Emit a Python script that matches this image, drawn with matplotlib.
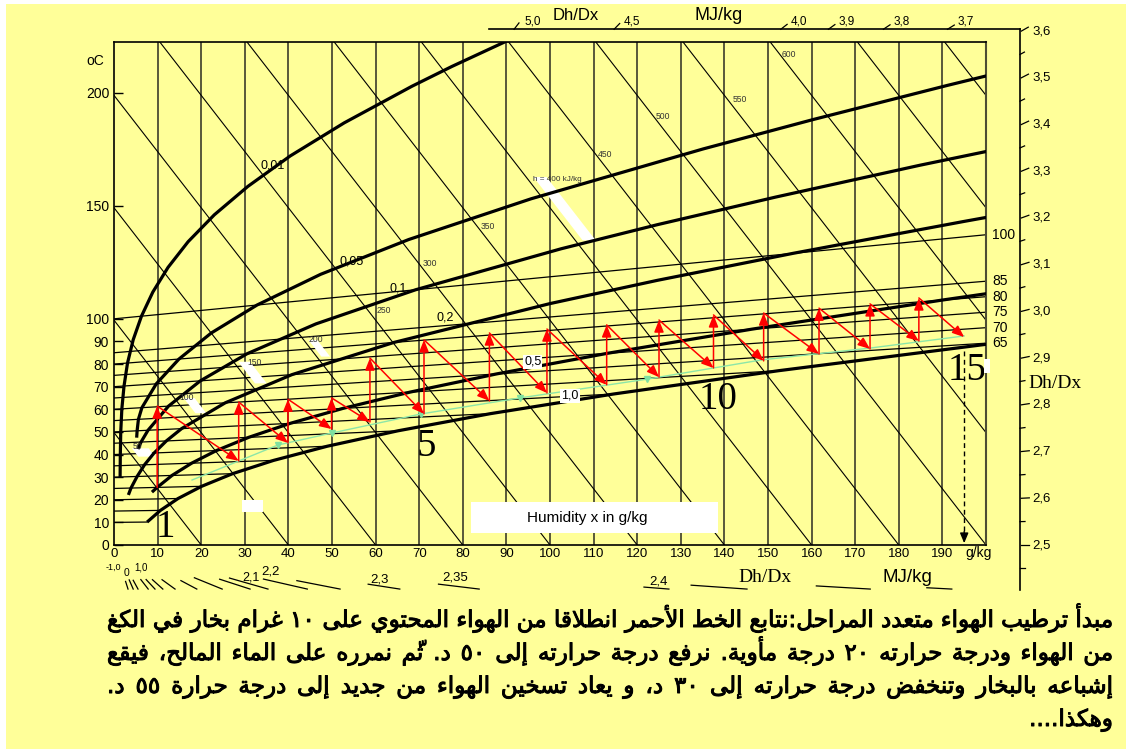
import numpy as np
import matplotlib
matplotlib.use("Agg")
import matplotlib.pyplot as plt
import matplotlib.patheffects as pe
from matplotlib.patches import Polygon, Rectangle

W, H = 1126, 749
YELLOW = "#FFFF99"
SANS = "Liberation Sans"
SERIF = "Liberation Serif"
ARABIC = "DejaVu Sans"

plt.rcParams["font.family"] = [SANS, "DejaVu Sans"]

# ---------------- values ----------------
x_ticks = list(range(0, 200, 10))            # g/kg
x_grid = list(range(10, 200, 10))
left_t = [0, 10, 20, 30, 40, 50, 60, 70, 80, 90, 100, 150, 200]   # oC on the x=0 axis
enthalpy = list(range(50, 701, 50))           # kJ/kg, oblique lines
h_text = ["50", "100", "150", "200", "250", "300", "350", "h = 400 kJ/kg",
          "450", "500", "550", "600"]

iso_t = [10, 15, 20, 25, 30, 35, 40, 45, 50, 55, 60, 65, 70, 75, 80, 85, 100]
iso_x_end = [7.6, 10.65, 14.7, 20.1, 27.2, 36.6, 48.9, 65.1, 86.3, 114.6, 152.4,
             200, 200, 200, 200, 200, 200]
iso_labelled = [65, 70, 75, 80, 85, 100]

rh_names = ["0,01", "0,05", "0,1", "0,2", "0,5", "1,0"]
rh001_t = [30, 40, 50, 60, 70, 80, 90, 100, 110, 120, 130, 140, 150, 160, 170, 180, 185, 191]
rh001_x = [1.4, 1.45, 1.55, 1.8, 2.3, 3.1, 4.4, 6.3, 8.9, 12.4, 17.0, 23.0, 30.7, 40.4,
           52.8, 68.3, 77.5, 90.2]
rh005_t = [47, 50, 55, 60, 70, 80, 90, 100, 110, 120, 130, 140, 145, 150, 151.5]
rh005_x = [5.2, 5.3, 5.6, 6.4, 9.7, 14.9, 22.3, 32.8, 47.4, 67.6, 95.7, 135.1, 160.5,
           191.1, 201.8]
rh01_t = [42, 45, 50, 60, 70, 80, 90, 100, 110, 115, 120, 125, 127]
rh01_x = [5.5, 6.2, 7.8, 12.5, 19.8, 30.5, 46.3, 69.2, 102.5, 124.6, 151.7, 184.8, 201.2]
rh02_t = [22, 25, 30, 35, 40, 45, 50, 60, 70, 80, 90, 95, 100, 105, 106]
rh02_x = [3.3, 3.9, 5.3, 7.0, 9.2, 12.0, 15.5, 25.5, 40.8, 64.2, 100.0, 124.6, 155.7,
          194.8, 203.8]
rh05_t = [23, 25, 30, 35, 40, 45, 50, 55, 60, 65, 70, 75, 80, 81]
rh05_x = [8.7, 9.9, 13.3, 17.8, 23.5, 30.9, 40.4, 52.5, 67.9, 87.7, 113.2, 146.3, 189.9, 200.5]
rh10_t = [10, 15, 20, 25, 30, 35, 40, 45, 50, 55, 60, 65]
rh10_x = [7.6, 10.65, 14.7, 20.1, 27.2, 36.6, 48.9, 65.1, 86.3, 114.6, 152.4, 204.1]

# red path: heating (vertical) then humidifying (diagonal) stages
stage_x = [9.9, 28.6, 39.9, 49.9, 58.7, 71.1, 86.1, 99.3, 113.0, 125.0, 137.5, 149.0,
           161.7, 173.4, 184.6]
stage_t_low = [25.0, 35.3, 42.0, 46.9, 49.0, 51.2, 54.9, 56.7, 58.5, 60.2, 62.3, 63.7,
               64.9, 65.5, 67.1]
stage_t_high = [60.3, 60.0, 60.0, 59.5, 74.5, 80.1, 80.8, 80.6, 80.4, 80.7, 81.0, 80.3,
                80.5, 80.6, 81.3]
end_x, end_t = 195.0, 67.4
stage_names = ["1", "5", "10", "15"]

green_x = [17.9, 37.6, 50.0, 70.4, 93.1, 122.2, 148.6, 173.4, 195.0]
green_t = [27.8, 41.3, 45.3, 51.2, 55.4, 59.7, 64.1, 65.8, 67.8]

# Dh/Dx edge scale (MJ/kg)
dhdx_right = [2.5, 2.6, 2.7, 2.8, 2.9, 3.0, 3.1, 3.2, 3.3, 3.4, 3.5, 3.6]
dhdx_top = [3.7, 3.8, 3.9, 4.0, 4.5, 5.0]
dhdx_bottom_marks = [-3.6, -1.95, -1.06, 0.0, 0.415, 0.75, 1.1, 1.468, 1.71, 1.872, 1.945,
                     2.058, 2.122, 2.201, 2.266, 2.346, 2.365, 2.387, 2.398]
dhdx_bottom_names = ["-1,0", "0", "1,0", "2,1", "2,2", "2,3", "2,35", "2,4"]

caption = [
    "مبدأ ترطيب الهواء متعدد المراحل:نتابع الخط الأحمر انطلاقا من الهواء المحتوي على ١٠ غرام بخار في الكغ",
    "من الهواء ودرجة حرارته ٢٠ درجة مأوية. نرفع درجة حرارته إلى ٥٠ د. ثمّ نمرره على الماء المالح، فيقع",
    "إشباعه بالبخار وتنخفض درجة حرارته إلى ٣٠ د، و يعاد تسخين الهواء من جديد إلى درجة حرارة ٥٥ د.",
    "وهكذا....",
]


def chart_y(x, t):
    """Vertical position in the skewed Mollier chart (h - 2.5 x, kJ/kg)."""
    x = np.asarray(x, dtype=float)
    t = np.asarray(t, dtype=float)
    return 1.006 * t + x * (0.001 + 0.00186 * t)


# ---------------- simple Arabic shaping for matplotlib ----------------
AR_BASE = {
    "ء": (0xFE80, 1), "آ": (0xFE81, 2), "أ": (0xFE83, 2), "ؤ": (0xFE85, 2),
    "إ": (0xFE87, 2), "ئ": (0xFE89, 4), "ا": (0xFE8D, 2), "ب": (0xFE8F, 4),
    "ة": (0xFE93, 2), "ت": (0xFE95, 4), "ث": (0xFE99, 4), "ج": (0xFE9D, 4),
    "ح": (0xFEA1, 4), "خ": (0xFEA5, 4), "د": (0xFEA9, 2), "ذ": (0xFEAB, 2),
    "ر": (0xFEAD, 2), "ز": (0xFEAF, 2), "س": (0xFEB1, 4), "ش": (0xFEB5, 4),
    "ص": (0xFEB9, 4), "ض": (0xFEBD, 4), "ط": (0xFEC1, 4), "ظ": (0xFEC5, 4),
    "ع": (0xFEC9, 4), "غ": (0xFECD, 4), "ف": (0xFED1, 4), "ق": (0xFED5, 4),
    "ك": (0xFED9, 4), "ل": (0xFEDD, 4), "م": (0xFEE1, 4), "ن": (0xFEE5, 4),
    "ه": (0xFEE9, 4), "و": (0xFEED, 2), "ى": (0xFEEF, 2), "ي": (0xFEF1, 4),
}
LAM_ALEF = {"آ": 0xFEF5, "أ": 0xFEF7, "إ": 0xFEF9, "ا": 0xFEFB}


def is_mark(c):
    o = ord(c)
    return 0x064B <= o <= 0x065F or o == 0x0670


def shape_rtl(text):
    chars = list(text)
    n = len(chars)

    def neighbour(i, step):
        j = i + step
        while 0 <= j < n and is_mark(chars[j]):
            j += step
        return chars[j] if 0 <= j < n else None

    clusters = []
    i = 0
    while i < n:
        c = chars[i]
        if is_mark(c) and clusters:
            clusters[-1] += c
            i += 1
            continue
        if c in AR_BASE:
            prev, nxt = neighbour(i, -1), neighbour(i, 1)
            joins_prev = prev in AR_BASE and AR_BASE[prev][1] == 4
            if c == "ل" and nxt in LAM_ALEF:
                clusters.append(chr(LAM_ALEF[nxt] + (1 if joins_prev else 0)))
                j = i + 1
                while is_mark(chars[j]):
                    j += 1
                i = j + 1
                continue
            base, nforms = AR_BASE[c]
            joins_next = nforms == 4 and nxt in AR_BASE
            if joins_prev and joins_next:
                code = base + 3
            elif joins_prev:
                code = base + 1 if nforms > 1 else base
            elif joins_next:
                code = base + 2
            else:
                code = base
            clusters.append(chr(code))
        else:
            clusters.append(c)
        i += 1
    tokens = []
    for cl in clusters:
        if cl[0].isdigit() and tokens and tokens[-1][0].isdigit():
            tokens[-1] += cl
        else:
            tokens.append(cl)
    return "".join(reversed(tokens))


# ---------------- figure ----------------
fig = plt.figure(figsize=(W / 100, H / 100), dpi=100)
fig.patch.set_facecolor("white")
fig.patches.append(Rectangle((6 / W, 0), 1 - 6 / W, 1 - 4 / H, transform=fig.transFigure,
                             facecolor=YELLOW, edgecolor="none", zorder=-10))

ax = fig.add_axes([114 / W, 1 - 545 / H, 872 / W, 502.7 / H])
ax.set_facecolor(YELLOW)
ax.set_xlim(0, 200)
ax.set_ylim(0, 223.6)
sx, sy = 872 / 200, 502.7 / 223.6      # pixels per data unit

ax.set_xticks(x_ticks)
ax.set_xticklabels([str(v) for v in x_ticks], fontsize=9.5)
ax.tick_params(axis="x", length=0, pad=2)
ax.set_yticks(chart_y(0, left_t))
ax.set_yticklabels([str(v) for v in left_t], fontsize=10)
ax.tick_params(axis="y", direction="in", length=6.5, width=1.0, pad=3.5)
for s in ["left", "bottom", "top"]:
    ax.spines[s].set_linewidth(1.2)
ax.spines["right"].set_color("#4d4d33")
ax.spines["right"].set_linewidth(1.5)

# grid of the chart
for xv in x_grid:
    ax.axvline(xv, color="#333326", lw=1.15, zorder=1)
for h in enthalpy:
    ax.plot([0, h / 2.5], [h, 0], color="black", lw=0.8, zorder=2)
for t, xe in zip(iso_t, iso_x_end):
    xs = np.array([0, xe])
    ax.plot(xs, chart_y(xs, t), color="black", lw=0.9, zorder=2)


def band(x0, y0, w, h):
    pts = [(x0, y0), (x0 + w, y0), (x0 + w + h / 2.5, y0 - h), (x0 + h / 2.5, y0 - h)]
    ax.add_patch(Polygon(pts, closed=True, facecolor="white", edgecolor="none", zorder=3))


band(4.1, 43.0, 3.85, 3.7)
band(16.0, 65.3, 2.5, 6.7)
band(28.5, 81.5, 2.7, 9.6)
band(44.6, 91.2, 2.0, 7.4)
band(96.2, 163.7, 3.0, 28.2)

# relative humidity curves
rh_curves = [(rh001_x, rh001_t), (rh005_x, rh005_t), (rh01_x, rh01_t),
             (rh02_x, rh02_t), (rh05_x, rh05_t), (rh10_x, rh10_t)]
for xs, ts in rh_curves:
    ax.plot(xs, chart_y(xs, ts), color="black", lw=2.3, zorder=4, solid_capstyle="butt")

rh_label_pos = [(36.5, 168.6), (54.6, 125.9), (65.1, 114.3), (75.9, 101.0),
                (96.1, 81.4), (104.6, 66.3)]
for name, (lx, ly) in zip(rh_names, rh_label_pos):
    kw = {}
    if name in ("0,5", "1,0"):
        kw["bbox"] = dict(facecolor="white", edgecolor="none", pad=0.6)
    ax.text(lx, ly, name, fontsize=9, ha="center", va="center", zorder=7, **kw)

h_label_pos = [(5.3, 43.6), (16.7, 65.4), (32.3, 81.0), (46.3, 91.2), (61.9, 104.1),
               (72.5, 125.4), (85.8, 141.5), (101.7, 162.7), (112.6, 173.9),
               (125.9, 190.8), (143.6, 198.0), (154.8, 218.0)]
for name, (lx, ly) in zip(h_text, h_label_pos):
    ax.text(lx, ly, name, fontsize=5.9 if len(name) > 3 else 6.2, color="#333333",
            ha="center", va="center", zorder=7)

for t in iso_labelled:
    ax.text(201.4, chart_y(200, t), str(t), fontsize=10, ha="left", va="center", clip_on=False)

# green line of the saturated states
gy = chart_y(green_x, green_t)
ax.plot(green_x, gy, color="#8CE6A8", lw=1.0, zorder=5)
ax.plot(green_x[1:6], gy[1:6], linestyle="none", marker="v", ms=4.5, color="#7FE0A0", zorder=5)

# red process
arrow_kw = dict(arrowstyle="-|>,head_length=0.55,head_width=0.22", color="#ff0000", lw=1.1,
                mutation_scale=13, shrinkA=0, shrinkB=0)
for i, xs in enumerate(stage_x):
    y_lo = chart_y(xs, stage_t_low[i])
    y_hi = chart_y(xs, stage_t_high[i])
    ax.annotate("", xy=(xs, y_hi), xytext=(xs, y_lo), arrowprops=arrow_kw, zorder=6)
    if i + 1 < len(stage_x):
        nx, nt = stage_x[i + 1], stage_t_low[i + 1]
    else:
        nx, nt = end_x, end_t
    ax.annotate("", xy=(nx, chart_y(nx, nt)), xytext=(xs, y_hi), arrowprops=arrow_kw, zorder=6)

y_end = float(chart_y(end_x, end_t))
ax.plot([end_x, end_x], [y_end - 6, 6], color="black", lw=1.0, dashes=(3.5, 2.5), zorder=6)
ax.annotate("", xy=(end_x, 0.8), xytext=(end_x, 6),
            arrowprops=dict(arrowstyle="-|>,head_length=0.6,head_width=0.25", color="black",
                            lw=1.0, mutation_scale=10, shrinkA=0, shrinkB=0), zorder=6)

stage_pos = [(11.7, 8.0), (71.6, 43.6), (138.5, 64.5), (195.6, 77.8)]
for name, (lx, ly) in zip(stage_names, stage_pos):
    ax.text(lx, ly, name, family=SERIF, fontsize=28, ha="center", va="center", zorder=7)
ax.add_patch(Rectangle((199.5, 76.5), 1.4, 6.2, facecolor="white", edgecolor="none",
                       zorder=7, clip_on=False))

# white boxes
ax.add_patch(Rectangle((81.9, 5.3), 56.6, 13.8, facecolor="white", edgecolor="none", zorder=7))
ax.text(94.7, 12.0, "Humidity x in g/kg", fontsize=11, ha="left", va="center", zorder=8)
ax.add_patch(Rectangle((29.4, 14.7), 4.8, 5.3, facecolor="white", edgecolor="none", zorder=7))

# ---------------- Dh/Dx edge scale ----------------
xR, yT, yB = 207.8, 229.4, -19.6


def ray_dir(q, length_px):
    dx, dy = sx, (q - 2.5) * sy
    n = np.hypot(dx, dy)
    return length_px * dx / n / sx, length_px * dy / n / sy


ax.plot([86.0, xR], [yT, yT], color="black", lw=1.2, clip_on=False)
ax.plot([xR, xR], [yT, -20.0], color="black", lw=1.2, clip_on=False)
for q in dhdx_right:
    yq = (q - 2.5) * xR
    ddx, ddy = ray_dir(q, 8)
    ax.plot([xR + 0.3, xR + 0.3 + ddx], [yq, yq + ddy], color="black", lw=0.9, clip_on=False)
    ax.text(xR + 12 / sx, yq, f"{q:.1f}".replace(".", ","), fontsize=9.5, ha="left",
            va="center", clip_on=False)
for q in np.array(dhdx_right[:-1]) + 0.05:
    yq = (q - 2.5) * xR
    ddx, ddy = ray_dir(q, 5)
    ax.plot([xR, xR + ddx], [yq, yq + ddy], color="black", lw=0.9, clip_on=False)
ax.plot([xR, xR + 5 / sx], [-0.05 * xR, -0.05 * xR], color="black", lw=0.9, clip_on=False)
for q in dhdx_top:
    xq = yT / (q - 2.5)
    ddx, ddy = ray_dir(q, 8)
    ax.plot([xq, xq + ddx], [yT, yT + ddy], color="black", lw=0.9, clip_on=False)
    ax.text(xq + 10 / sx, yT + 8 / sy, f"{q:.1f}".replace(".", ","), fontsize=8.5,
            ha="left", va="center", clip_on=False)
bottom_len = [8, 10, 10, 12, 13, 14, 16, 18, 30, 32, 40, 45, 44, 32, 41, 25, 56, 54, 25]
for q, L in zip(dhdx_bottom_marks, bottom_len):
    xe = yB / (q - 2.5)
    ddx, ddy = ray_dir(q, L)
    ax.plot([xe - ddx, xe], [yB - ddy, yB], color="black", lw=0.9, clip_on=False)


def ftext(px, py, s, **kw):
    return fig.text(px / W, 1 - py / H, s, **kw)


bottom_name_px = [(113, 567), (127, 573), (141, 567), (251, 578), (271, 572), (380, 580),
                  (455, 578), (659, 581)]
bottom_name_fs = [6.5, 7.5, 7, 9, 9.5, 9.5, 9.5, 9.5]
for name, (px, py), fs in zip(dhdx_bottom_names, bottom_name_px, bottom_name_fs):
    ftext(px, py, name, fontsize=fs, ha="center", va="center")

ftext(95, 61, "oC", fontsize=10, ha="center", va="center")
ftext(979, 553, "g/kg", fontsize=10, ha="center", va="center")
ftext(576, 15, "Dh/Dx", fontsize=12, ha="center", va="center")
ftext(719, 15, "MJ/kg", fontsize=13, ha="center", va="center")
ftext(1028, 383, "Dh/Dx", family=SERIF, fontsize=14, ha="left", va="center")
ftext(765, 578, "Dh/Dx", family=SERIF, fontsize=14, ha="center", va="center")
ftext(907, 578, "MJ/kg", fontsize=13.5, ha="center", va="center")

# ---------------- Arabic caption, justified ----------------
renderer = fig.canvas.get_renderer()
vis_words = [shape_rtl(s).split() for s in caption]
heavy = [pe.withStroke(linewidth=0.7, foreground="black")]


def word_widths(words, fs):
    out = []
    for w in words:
        t = fig.text(0, 0, w, fontsize=fs, family=[ARABIC])
        out.append(t.get_window_extent(renderer).width)
        t.remove()
    return out


left_px, right_px = 107, 1113
fs0 = 16
w0 = word_widths(vis_words[0], fs0)
natural = sum(w0) + 0.318 * fs0 * 100 / 72 * (len(w0) - 1)
cap_fs = min(18, max(12, fs0 * (right_px - left_px) / natural))
baselines = [627, 660, 693, 726]
for k, words in enumerate(vis_words):
    widths = word_widths(words, cap_fs)
    if k < 3 and len(words) > 1:
        gap = (right_px - left_px - sum(widths)) / (len(words) - 1)
        xpos = left_px
    else:
        gap = 0.318 * cap_fs * 100 / 72
        xpos = right_px - sum(widths) - gap * (len(words) - 1)
    for w, ww in zip(words, widths):
        ftext(xpos, baselines[k], w, fontsize=cap_fs, family=[ARABIC],
              ha="left", va="baseline", path_effects=heavy)
        xpos += ww + gap

fig.savefig("out.png", dpi=100, facecolor=fig.get_facecolor())
